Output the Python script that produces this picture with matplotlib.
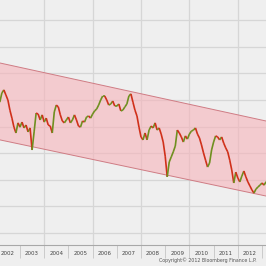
import numpy as np
import pandas as pd
import matplotlib
matplotlib.use("Agg")
import matplotlib.pyplot as plt
from matplotlib.collections import LineCollection

# monthly closes, Mar 2002 .. Apr 2013
dates = pd.date_range("2002-03-01", periods=134, freq="MS")
close = [
    109.2, 112.6, 113.8, 111.9, 110.0, 106.2, 103.2, 99.8, 97.6, 101.4,
    99.8, 101.7, 99.5, 100.6, 98.0, 99.5, 91.2, 98.0, 105.1, 104.7,
    102.5, 104.4, 101.7, 103.2, 100.6, 100.2, 97.6, 105.5, 108.1, 107.4,
    104.4, 102.1, 101.4, 102.5, 103.6, 101.4, 102.5, 104.4, 102.5, 100.2,
    99.8, 102.1, 101.7, 103.6, 104.0, 103.2, 104.7, 105.9, 106.6, 108.1,
    110.0, 111.5, 111.5, 110.0, 108.1, 108.5, 109.6, 107.7, 107.7, 108.5,
    105.9, 106.2, 107.4, 108.5, 111.5, 112.3, 109.2, 106.2, 104.0, 99.8,
    96.1, 95.0, 97.6, 95.0, 98.7, 100.2, 99.5, 101.4, 98.7, 99.5,
    97.2, 94.2, 88.9, 81.1, 86.7, 88.6, 90.5, 92.7, 98.7, 97.6,
    96.1, 94.2, 96.5, 95.3, 97.2, 98.3, 98.7, 99.5, 97.2, 95.7,
    93.1, 90.1, 87.4, 84.8, 86.3, 91.2, 94.2, 96.5, 96.1, 95.0,
    96.1, 93.8, 92.0, 90.5, 87.4, 83.7, 78.8, 82.9, 80.7, 79.2,
    81.4, 83.3, 81.1, 79.2, 77.7, 76.2, 75.0, 76.5, 77.3, 78.0,
    78.8, 78.0, 79.2, 79.9,
]

# trend channel end points (year, level)
chan_years = [2002.0, 2013.5]
chan_upper = [124.25, 101.44]
chan_lower = [95.33, 73.26]

years = list(range(2002, 2013))
grid_levels = [60, 70, 80, 90, 100, 110, 120, 130, 140]

t = np.array([d.year + (d.month - 1) / 12 for d in dates])
v = np.array(close)

fig = plt.figure(figsize=(2.66, 2.66), dpi=100)
fig.patch.set_facecolor("#efefef")
ax = fig.add_axes([0, 1 - 245 / 266, 1, 245 / 266])
ax.set_facecolor("#efefef")

# grid
for lv in grid_levels:
    ax.axhline(lv, color="#d6d6d6", lw=0.9, zorder=0)
for yr in range(2004, 2014, 2):
    ax.axvline(yr, color="#d6d6d6", lw=0.9, zorder=0)

# channel
ax.fill_between(chan_years, chan_lower, chan_upper,
                color=(0.97, 0.70, 0.73), alpha=0.6, lw=0, zorder=1)
ax.plot(chan_years, chan_upper, color="#cf7c84", lw=0.7, zorder=2)
ax.plot(chan_years, chan_lower, color="#cf7c84", lw=0.7, zorder=2)

# price line, red on down moves, green on up moves
pts = np.column_stack([t, v])
segs = np.stack([pts[:-1], pts[1:]], axis=1)
cols = ["#d0301a" if v[i + 1] < v[i] else "#6f8f1f" for i in range(len(v) - 1)]
ax.add_collection(LineCollection(segs, colors=cols, linewidths=1.2, zorder=3))

ax.set_xlim(2002.174, 2013.165)
ax.set_ylim(55.49, 147.59)

# axis styling
for s in ["top", "left", "right"]:
    ax.spines[s].set_visible(False)
ax.spines["bottom"].set_color("#a8a8a8")
ax.spines["bottom"].set_linewidth(0.8)
ax.set_yticks([])
ax.set_xticks(range(2003, 2014))
ax.set_xticklabels([])
ax.tick_params(axis="x", which="major", direction="out", length=9,
               width=0.6, color="#c4c4c4")
ax.set_xticks([y + 0.5 for y in years], minor=True)
ax.set_xticklabels([str(y) for y in years], minor=True)
ax.tick_params(axis="x", which="minor", length=0, pad=4,
               labelsize=4, labelcolor="#444444")

fig.text(0.965, 0.01, "Copyright\u00a9 2012 Bloomberg Finance L.P.",
         ha="right", va="bottom", fontsize=3.4, color="#555555")

fig.savefig("out.png", dpi=100, facecolor=fig.get_facecolor())
